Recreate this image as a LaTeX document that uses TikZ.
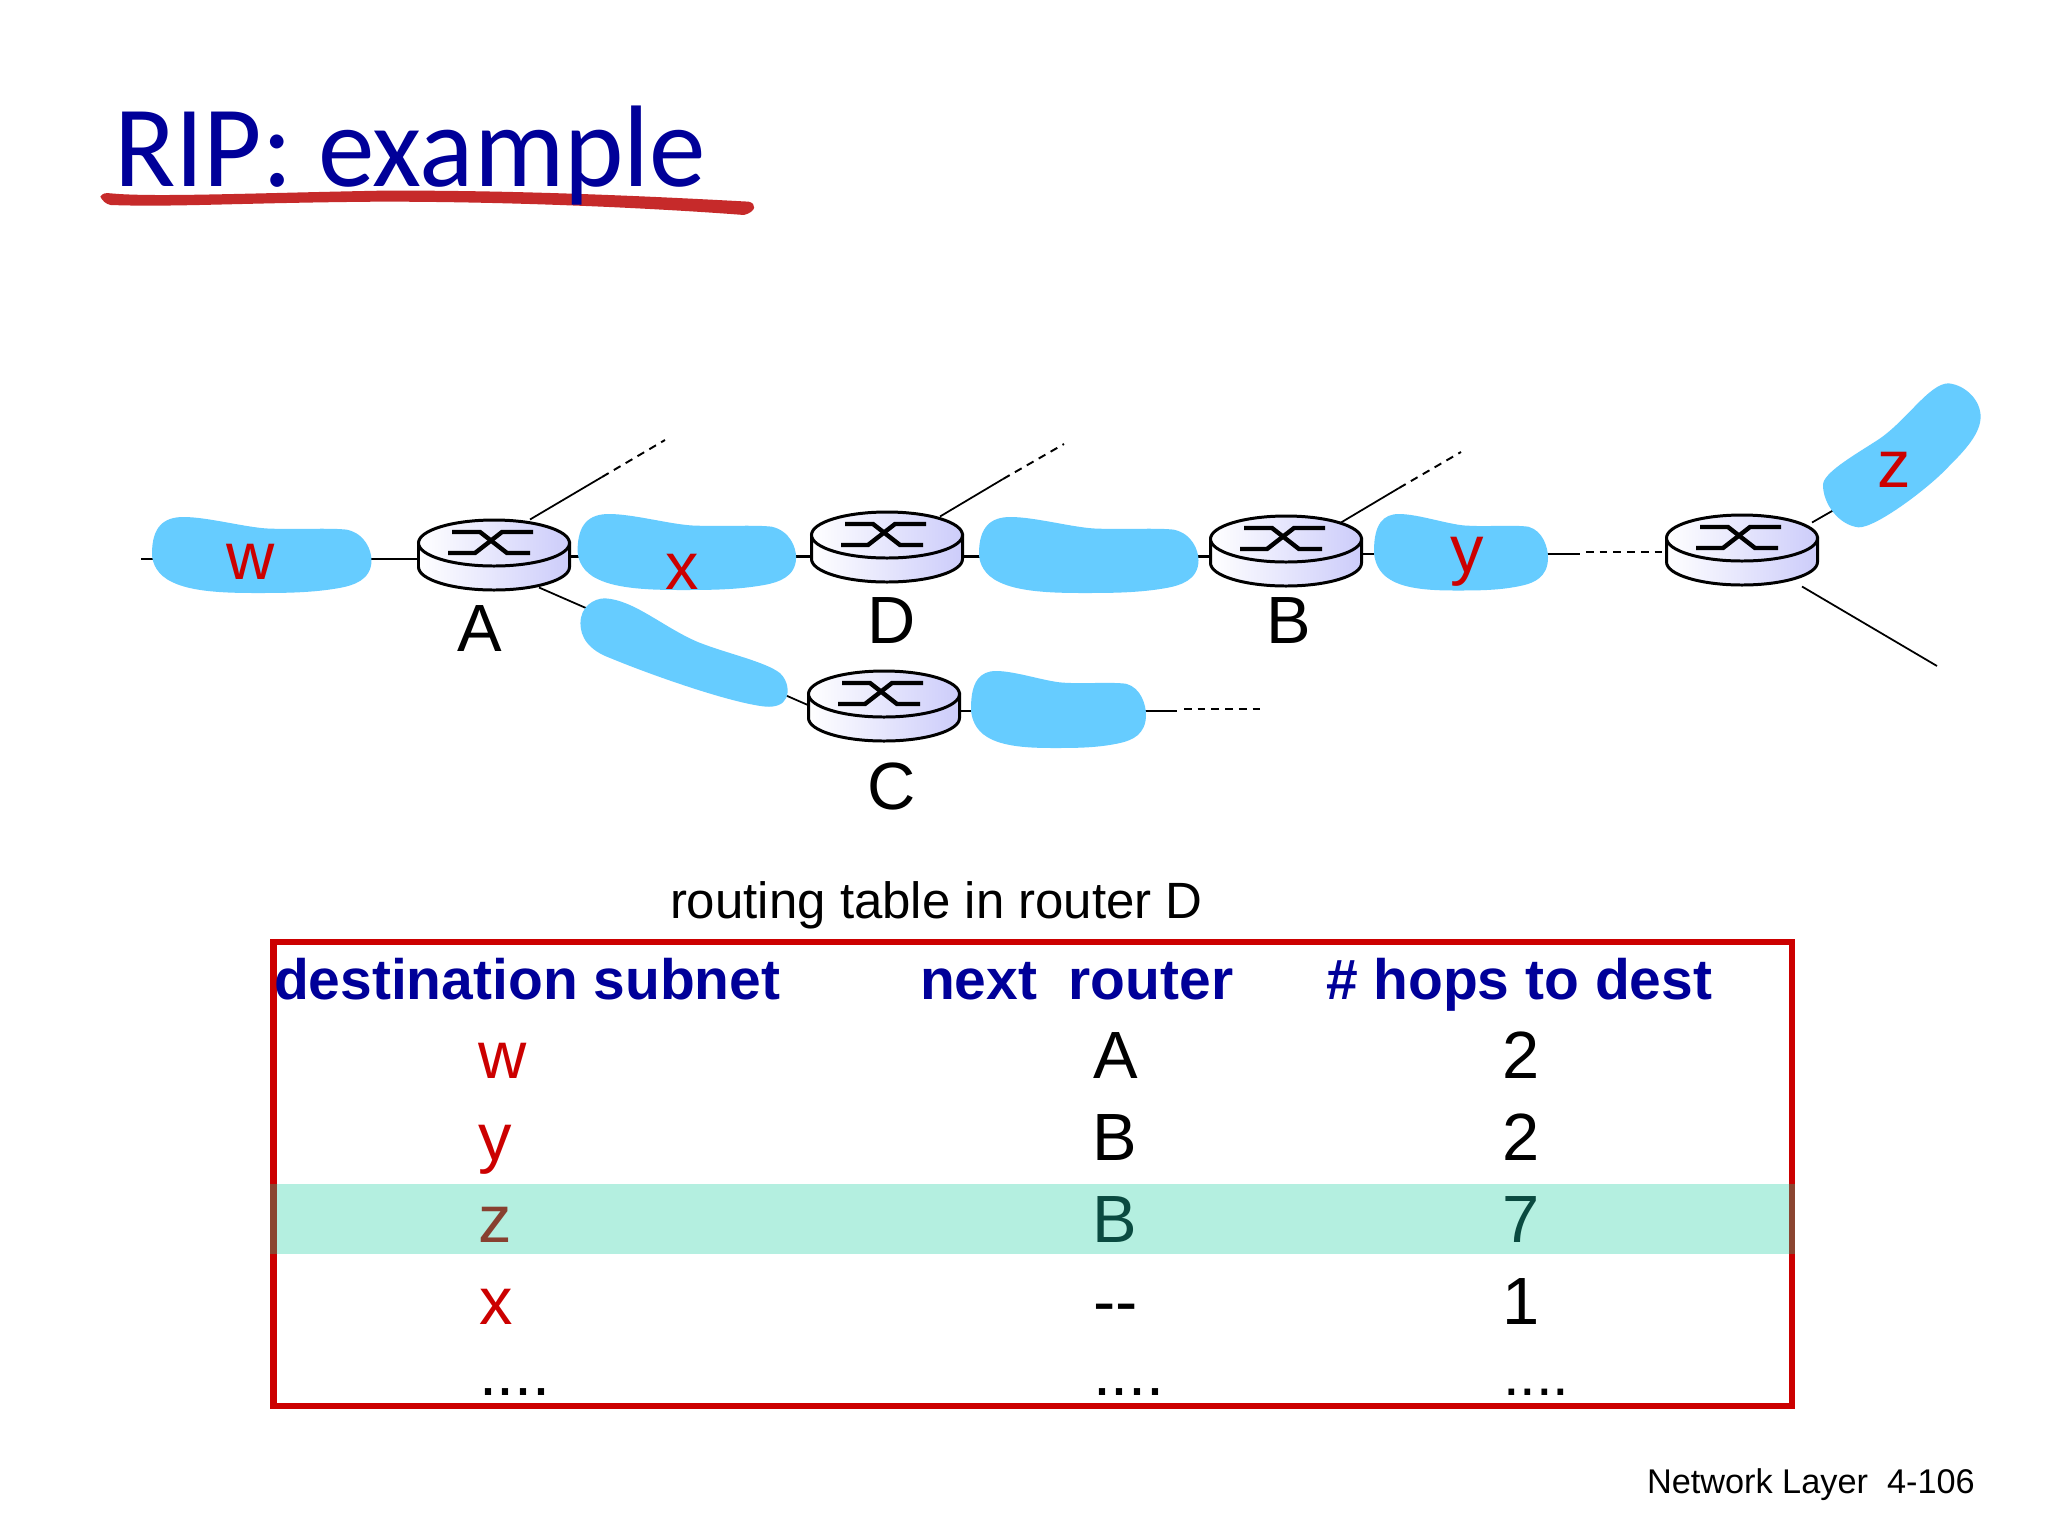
\documentclass[tikz,border=0pt]{standalone}
\usepackage{fontspec}
\setmainfont{Liberation Sans}
\newfontfamily\titlefont{Carlito}
\usetikzlibrary{calc}
\definecolor{netblue}{HTML}{66CCFF}
\definecolor{redtxt}{HTML}{CC0000}
\definecolor{navytxt}{HTML}{000099}
\definecolor{mintband}{HTML}{B4EFE0}
\definecolor{routerlav}{HTML}{CCCCFA}
\definecolor{penred}{HTML}{C62A2A}
\definecolor{zbrown}{HTML}{884030}
\definecolor{bgreen}{HTML}{0A4A40}
\definecolor{borderband}{HTML}{8B4530}
\tikzset{
  x=0.01cm,y=-0.01cm,
  routernode/.style={minimum width=1.52cm,minimum height=0.71cm,inner sep=0pt,outer sep=0pt},
  link/.style={line width=0.7pt,black},
  thinlink/.style={line width=0.5pt,black},
  dashlink/.style={line width=0.55pt,black,dash pattern=on 2.2pt off 1.7pt},
  txt/.style={inner sep=0pt,outer sep=0pt,anchor=base west},
  big/.style={txt,font=\fontsize{19}{23}\selectfont},
  bigred/.style={big,text=redtxt},
  dots/.style={txt,font=\fontsize{18.4}{23}\selectfont},
  headtxt/.style={txt,font=\fontsize{16.2}{20}\selectfont\bfseries,text=navytxt},
}
\newcommand{\routerdraw}[3]{%
  \node[routernode] (#1) at (#2,#3) {};
  \begin{scope}[shift={(#2,#3-12.5)}]
    \draw[line width=0.85pt,left color=white,right color=routerlav]
      (-75.5,0) -- (-75.5,24) .. controls (-75.5,36.7) and (-41.7,47) .. (0,47)
      .. controls (41.7,47) and (75.5,36.7) .. (75.5,24) -- (75.5,0) -- cycle;
    \draw[line width=0.85pt,left color=white,right color=routerlav]
      (-75.5,0) .. controls (-75.5,-12.7) and (-41.7,-23) .. (0,-23)
      .. controls (41.7,-23) and (75.5,-12.7) .. (75.5,0)
      .. controls (75.5,12.7) and (41.7,23) .. (0,23)
      .. controls (-41.7,23) and (-75.5,12.7) .. (-75.5,0) -- cycle;
    \draw[line width=1.25pt] (-42,-11) -- (-14,-11) -- (13,10) -- (36,10);
    \draw[line width=1.25pt] (-46,10) -- (-19,10) -- (8,-11) -- (39,-11);
  \end{scope}}
\newcommand{\blobdraw}[4]{%
  \begin{scope}[shift={(#1,#2)},xscale=#3/383,yscale=#4/228]
    \fill[netblue] (0,110) .. controls (0,30) and (20,0) .. (55,0)
      .. controls (100,0) and (170,35) .. (210,35)
      .. controls (250,38) and (310,32) .. (340,38)
      .. controls (372,50) and (383,100) .. (383,130)
      .. controls (383,190) and (350,205) .. (330,212)
      .. controls (280,228) and (230,228) .. (180,228)
      .. controls (130,228) and (70,225) .. (35,195)
      .. controls (10,175) and (0,140) .. (0,110) -- cycle;
  \end{scope}}
\begin{document}
\begin{tikzpicture}
\useasboundingbox (0,0) rectangle (2048,1536);
\fill[white] (0,0) rectangle (2048,1536);

% underline
\begin{scope}[shift={(60,80)},xscale=0.459,yscale=0.3333]
  \fill[penred] (88,350) .. controls (92,340) and (100,338) .. (110,340)
    .. controls (200,352) and (400,340) .. (700,332)
    .. controls (1000,330) and (1300,350) .. (1500,365)
    .. controls (1518,370) and (1518,395) .. (1490,405)
    .. controls (1300,385) and (1000,365) .. (700,365)
    .. controls (400,368) and (250,382) .. (110,375)
    .. controls (100,372) and (92,362) .. (88,350) -- cycle;
\end{scope}
\node[txt,font=\fontsize{33}{40}\selectfont\titlefont,text=navytxt] (title) at (114,186) {\scalebox{0.975}[1]{RIP: example}};

% positions of routers (named first so links can refer to them)
\coordinate (A) at (494,555.5);
\coordinate (D) at (887,547.5);
\coordinate (C) at (884,706.5);
\coordinate (B) at (1286,551.5);
\coordinate (E) at (1742,550.5);

% free ends
\coordinate (stub) at (141,559);
\coordinate (au) at (602,477);
\coordinate (ae) at (665,440);
\coordinate (du) at (1003,479);
\coordinate (de) at (1064,444);
\coordinate (bu) at (1399,488);
\coordinate (be) at (1461,452);
\coordinate (es) at (1580,554);
\coordinate (es2) at (1586,552);
\coordinate (cs) at (1177,711);
\coordinate (cs2) at (1184,709);
\coordinate (ce) at (1261,709);
\coordinate (ez) at (1860,495);
\coordinate (el) at (1937,666);

% links (under the routers and the blue blobs)
\draw[link] (stub) -- ($(A)+(0,3.5)$);
\draw[link] ($(A)+(0,1)$) -- ($(D)+(0,9)$);
\draw[link] ($(D)+(0,9)$) -- ($(B)+(0,5)$);
\draw[link] ($(B)+(0,2.5)$) -- (es);
\draw[dashlink] (es2) -- ($(E)+(0,1.5)$);
\draw[link] ($(C)+(0,4.5)$) -- (cs);
\draw[dashlink] (cs2) -- (ce);
\draw[thinlink] ($(A)+(36,-36)$) -- (au);
\draw[dashlink] (au) -- (ae);
\draw[thinlink] ($(D)+(53,-31)$) -- (du);
\draw[dashlink] (du) -- (de);
\draw[thinlink] ($(B)+(55,-29)$) -- (bu);
\draw[dashlink] (bu) -- (be);
\draw[thinlink] ($(A)+(45,32)$) -- ($(C)+(-75,-1)$);
\draw[thinlink] ($(E)+(70,-28)$) -- (ez);
\draw[thinlink] ($(E)+(60,36)$) -- (el);

% blue networks
\blobdraw{152}{517}{219.5}{76}
\blobdraw{577.6}{514}{218.5}{76}
\blobdraw{979}{517}{219.5}{76}
\blobdraw{1374}{514}{174}{76.5}
\blobdraw{971}{671}{175}{77}
\begin{scope}[shift={(100,420)},xscale=0.574,yscale=0.3333]
  \fill[netblue] (837,610) .. controls (837,560) and (860,535) .. (880,535)
    .. controls (930,540) and (980,620) .. (1040,665)
    .. controls (1090,700) and (1160,725) .. (1185,760)
    .. controls (1200,785) and (1200,820) .. (1195,835)
    .. controls (1190,855) and (1175,862) .. (1160,860)
    .. controls (1100,850) and (960,765) .. (890,715)
    .. controls (850,690) and (837,650) .. (837,610) -- cycle;
\end{scope}
\begin{scope}[shift={(1000,360)},xscale=0.668,yscale=0.3333]
  \fill[netblue] (1420,70) .. controls (1445,75) and (1468,120) .. (1468,170)
    .. controls (1468,220) and (1445,270) .. (1420,320)
    .. controls (1390,385) and (1310,505) .. (1285,502)
    .. controls (1255,495) and (1232,430) .. (1232,375)
    .. controls (1232,340) and (1275,290) .. (1310,245)
    .. controls (1355,190) and (1390,70) .. (1420,70) -- cycle;
\end{scope}

% routers
\routerdraw{A}{494}{555.5}
\routerdraw{D}{887}{547.5}
\routerdraw{C}{884}{706.5}
\routerdraw{B}{1286}{551.5}
\routerdraw{E}{1742}{550.5}

% network labels
\node[bigred] (lw) at (226,579) {w};
\node[bigred] (lx) at (665,589) {x};
\node[bigred] (ly) at (1450,572) {y};
\node[bigred] (lz) at (1877,487) {z};
% router labels
\node[big] (la) at (457,651) {A};
\node[big] (ld) at (867,643) {D};
\node[big] (lb) at (1266,643) {B};
\node[big] (lc) at (867,809) {C};

\node[txt,font=\fontsize{14.5}{17}\selectfont] (cap) at (670,918) {routing table in router D};

% table
\fill[mintband] (272,1184) rectangle (1792,1254);
\draw[redtxt,line width=1.8pt] (273.5,942) rectangle (1792,1406);
\draw[borderband,line width=1.8pt] (273.5,1184) -- (273.5,1254);
\draw[borderband,line width=1.8pt] (1792,1184) -- (1792,1254);

\node[headtxt] (h1) at (274,999) {destination subnet};
\node[headtxt] (h2) at (920,999) {next\ \ router};
\node[headtxt] (h3) at (1326,999) {\# hops to dest};

\node[bigred] (r1a) at (478,1078) {w};
\node[big] (r1b) at (1093,1078) {A};
\node[big] (r1c) at (1502,1078) {2};
\node[bigred] (r2a) at (478,1160) {y};
\node[big] (r2b) at (1092,1160) {B};
\node[big] (r2c) at (1502,1160) {2};
\node[big,text=zbrown] (r3a) at (478,1242) {z};
\node[big,text=bgreen] (r3b) at (1092,1242) {B};
\node[big,text=bgreen] (r3c) at (1502,1242) {7};
\node[bigred] (r4a) at (479,1324) {x};
\node[big] (r4b) at (1093,1324) {{-}{-}};
\node[big] (r4c) at (1502,1324) {1};
\node[dots] (r5a) at (479,1395) {....};
\node[dots] (r5b) at (1093,1395) {....};
\node[txt,font=\fontsize{17}{23}\selectfont] (r5c) at (1503,1395) {....};

\node[txt,font=\fontsize{9.75}{12}\selectfont] (foot) at (1647,1493) {Network Layer\ \ 4-106};
\end{tikzpicture}
\end{document}
